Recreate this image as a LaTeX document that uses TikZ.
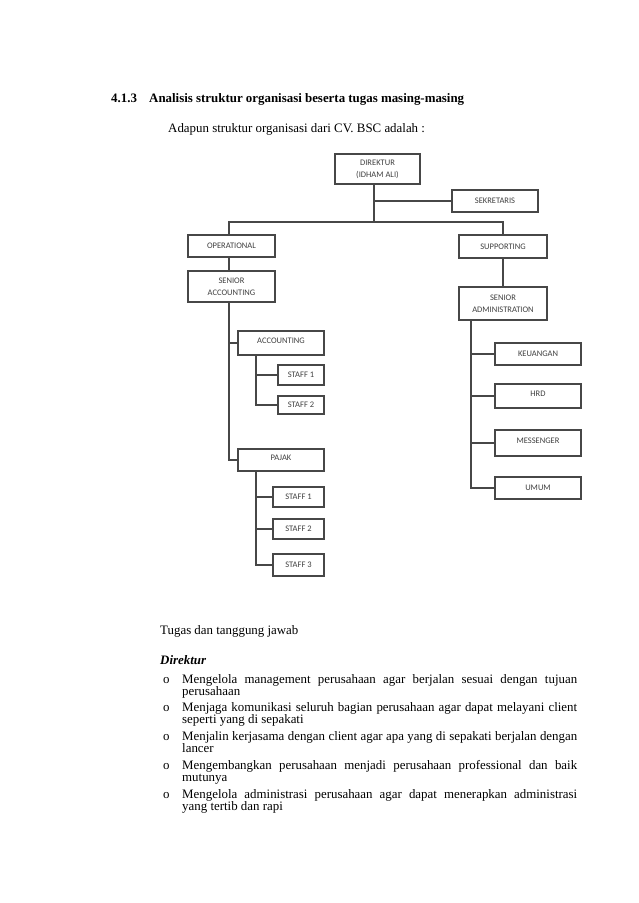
\documentclass[tikz,border=0pt]{standalone}
\usepackage{fontspec}
\setmainfont{Liberation Serif}
\newfontfamily\chartfont{Carlito}
\begin{document}
\begin{tikzpicture}[x=1pt,y=-1pt,
  box/.style={draw=black!72, line width=1.2pt, inner sep=0pt, align=center,
    font=\chartfont\fontsize{8.5}{12}\selectfont, text=black!75},
  conn/.style={draw=black!72, line width=1.2pt},
  body/.style={anchor=base west, inner sep=0pt, font=\fontsize{12.9}{13}\selectfont},
  bul/.style={anchor=base west, inner sep=0pt, font=\fontsize{12.9}{13}\selectfont}
]
\useasboundingbox (0,0) rectangle (638,903);
\fill[white] (0,0) rectangle (638,903);

% headings
\node[body, font=\bfseries\fontsize{12.9}{13}\selectfont] (hnum) at (111,102) {4.1.3};
\node[body, font=\bfseries\fontsize{12.9}{13}\selectfont] (htitle) at (149,102) {Analisis struktur organisasi beserta tugas masing-masing};
\node[body] (intro) at (168,132) {Adapun struktur organisasi dari CV. BSC adalah :};

% boxes
\node[box, minimum width=85, minimum height=30] (dir) at (377.5,169) {DIREKTUR\\(IDHAM ALI)};
\node[box, minimum width=86, minimum height=22] (sek) at (495,201) {SEKRETARIS};
\node[box, minimum width=87, minimum height=22] (op) at (231.5,246) {OPERATIONAL};
\node[box, minimum width=88, minimum height=23] (sup) at (503,246.5) {SUPPORTING};
\node[box, minimum width=87, minimum height=31] (sacc) at (231.5,286.5) {SENIOR\\ACCOUNTING};
\node[box, minimum width=88, minimum height=33] (sadm) at (503,303.5) {SENIOR\\ADMINISTRATION};
\node[box, minimum width=86, minimum height=24, text depth=5pt] (acc) at (281,343) {ACCOUNTING};
\node[box, minimum width=46, minimum height=20] (as1) at (301,375) {STAFF 1};
\node[box, minimum width=46, minimum height=18] (as2) at (301,405) {STAFF 2};
\node[box, minimum width=86, minimum height=22, text depth=4pt] (pajak) at (281,460) {PAJAK};
\node[box, minimum width=51, minimum height=20] (ps1) at (298.5,497) {STAFF 1};
\node[box, minimum width=51, minimum height=20] (ps2) at (298.5,529) {STAFF 2};
\node[box, minimum width=51, minimum height=22] (ps3) at (298.5,565) {STAFF 3};
\node[box, minimum width=86, minimum height=22] (keu) at (538,354) {KEUANGAN};
\node[box, minimum width=86, minimum height=24, text depth=5pt] (hrd) at (538,396) {HRD};
\node[box, minimum width=86, minimum height=26, text depth=5pt] (mes) at (538,443) {MESSENGER};
\node[box, minimum width=86, minimum height=22] (umum) at (538,488) {UMUM};

% junction coordinates
\coordinate (jd) at (374,222);
\coordinate (jl) at (229,222);
\coordinate (jr) at (503,222);
\coordinate (ja) at (256,0);
\coordinate (jb) at (471,0);

% connectors
\draw[conn] (dir.south -| jd) -- (jd);
\draw[conn] (sek.west) -- (sek.west -| jd);
\draw[conn] (op.north -| jl) -- (jl) -- (jr) -- (sup.north);
\draw[conn] (op.south -| jl) -- (sacc.north -| jl);
\draw[conn] (sup.south) -- (sadm.north);
\draw[conn] (sacc.south -| jl) |- (pajak.west);
\draw[conn] (acc.west) -- (acc.west -| jl);
\draw[conn] (acc.south -| ja) |- (as2.west);
\draw[conn] (as1.west) -- (as1.west -| ja);
\draw[conn] (pajak.south -| ja) |- (ps3.west);
\draw[conn] (ps1.west) -- (ps1.west -| ja);
\draw[conn] (ps2.west) -- (ps2.west -| ja);
\draw[conn] (sadm.south -| jb) |- (umum.west);
\draw[conn] (keu.west) -- (keu.west -| jb);
\draw[conn] (hrd.west) -- (hrd.west -| jb);
\draw[conn] (mes.west) -- (mes.west -| jb);

% text below
\node[body] (tugas) at (160,634) {Tugas dan tanggung jawab};
\node[body, font=\bfseries\itshape\fontsize{12.9}{13}\selectfont] (direk) at (160,664) {Direktur};

\node[bul] (b1) at (163,683) {o};
\node[body] (l1a) at (182,683) {\makebox[395pt][s]{Mengelola management perusahaan agar berjalan sesuai dengan tujuan}};
\node[body] (l1b) at (182,695) {perusahaan};
\node[bul] (b2) at (163,711) {o};
\node[body] (l2a) at (182,711) {\makebox[395pt][s]{Menjaga komunikasi seluruh bagian perusahaan agar dapat melayani client}};
\node[body] (l2b) at (182,723) {seperti yang di sepakati};
\node[bul] (b3) at (163,740) {o};
\node[body] (l3a) at (182,740) {\makebox[395pt][s]{Menjalin kerjasama dengan client agar apa yang di sepakati berjalan dengan}};
\node[body] (l3b) at (182,752.5) {lancer};
\node[bul] (b4) at (163,769) {o};
\node[body] (l4a) at (182,769) {\makebox[395pt][s]{Mengembangkan perusahaan menjadi perusahaan professional dan baik}};
\node[body] (l4b) at (182,781) {mutunya};
\node[bul] (b5) at (163,798) {o};
\node[body] (l5a) at (182,798) {\makebox[395pt][s]{Mengelola administrasi perusahaan agar dapat menerapkan administrasi}};
\node[body] (l5b) at (182,810) {yang tertib dan rapi};
\end{tikzpicture}
\end{document}
